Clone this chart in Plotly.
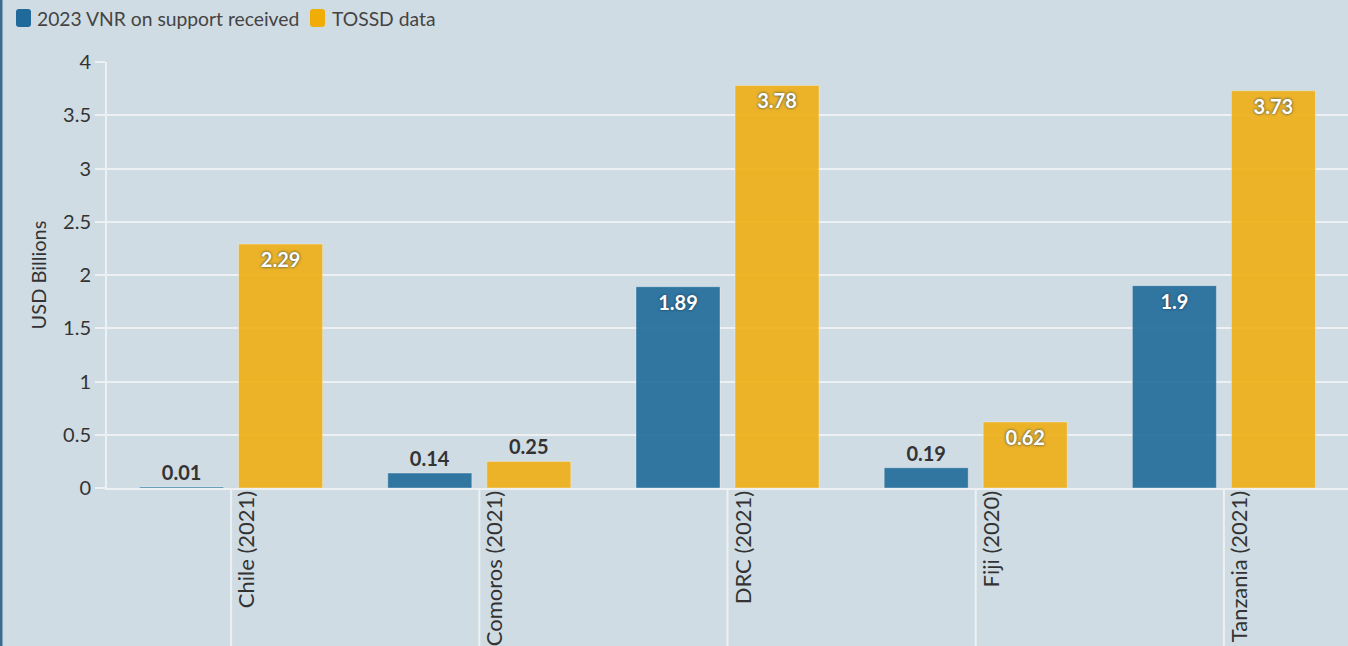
import plotly.graph_objects as go

# Data
countries = ["Chile (2021)", "Comoros (2021)", "DRC (2021)", "Fiji (2020)", "Tanzania (2021)"]
vnr_values = [0.01, 0.14, 1.89, 0.19, 1.9]
tossd_values = [2.29, 0.25, 3.78, 0.62, 3.73]
series_names = ["2023 VNR on support received", "TOSSD data"]
y_ticks = [0, 0.5, 1, 1.5, 2, 2.5, 3, 3.5, 4]

W, H = 1348, 646
ML, MT, MB = 107, 62, 158
PLOT_W, PLOT_H = W - ML, H - MT - MB

BG = "#d0dce3"
GRID = "#edf1f4"
FONT = "Source Sans Pro, Lato, Roboto, sans-serif"
BLUE = "#1a6899"
ORANGE = "#f0ae0f"
LEGEND_BLUE = "#1f6a9b"
LEGEND_ORANGE = "#efad05"
SHADOW = "0px 0px 3px #1d3a52"


def px_x(px):
    # page pixel -> paper fraction (x)
    return (px - ML) / PLOT_W


def px_y(py):
    # page pixel -> paper fraction (y)
    return (H - MB - py) / PLOT_H


def rounded_box(x0, y0, x1, y1, r=3):
    """SVG path of a rounded rectangle given in page pixels, in paper units."""
    rx, ry = r / PLOT_W, r / PLOT_H
    a, b, c, d = px_x(x0), px_x(x1), px_y(y1), px_y(y0)
    return (
        f"M {a + rx},{c} L {b - rx},{c} Q {b},{c} {b},{c + ry} "
        f"L {b},{d - ry} Q {b},{d} {b - rx},{d} L {a + rx},{d} "
        f"Q {a},{d} {a},{d - ry} L {a},{c + ry} Q {a},{c} {a + rx},{c} Z"
    )


def label_positions(values, limit=0.5):
    # small bars carry their label above, large ones inside at the top
    return ["inside" if v > limit else "outside" for v in values]


fig = go.Figure()

for name, values, color in zip(series_names, [vnr_values, tossd_values], [BLUE, ORANGE]):
    fig.add_trace(
        go.Bar(
            x=countries,
            y=values,
            name=name,
            marker=dict(color=color, opacity=0.88, line=dict(color="rgba(255,255,255,0.35)", width=1)),
            text=[f"{v:g}" for v in values],
            textposition=label_positions(values),
            insidetextanchor="end",
            insidetextfont=dict(family=FONT, size=20, color="white", weight="bold", shadow=SHADOW),
            outsidetextfont=dict(family=FONT, size=20, color="#333333", weight="bold"),
            cliponaxis=False,
        )
    )

# category lines below the axis
shapes = [
    dict(type="line", xref="x", yref="paper", x0=c, x1=c, y0=0, y1=-0.45,
         line=dict(color=GRID, width=2), layer="below")
    for c in countries
]
# dark border on the left edge of the page
shapes.append(dict(type="line", xref="paper", yref="paper", x0=px_x(1), x1=px_x(1), y0=-0.4, y1=1.2,
                   line=dict(color="#3b6b90", width=3)))

# hand-made legend (rounded, tall swatches like the original)
legend_items = [(16, 31, 35, LEGEND_BLUE, series_names[0]), (310, 325, 330, LEGEND_ORANGE, series_names[1])]
annotations = []
for sx0, sx1, tx, col, label in legend_items:
    shapes.append(dict(type="path", xref="paper", yref="paper", path=rounded_box(sx0, 9, sx1, 27),
                       fillcolor=col, line=dict(width=0)))
    annotations.append(dict(xref="paper", yref="paper", x=px_x(tx), y=px_y(18), text=label,
                            showarrow=False, xanchor="left", yanchor="middle",
                            font=dict(size=19.3, color="#444444")))

fig.update_layout(
    width=W,
    height=H,
    margin=dict(l=ML, r=0, t=MT, b=MB),
    paper_bgcolor=BG,
    plot_bgcolor=BG,
    font=dict(family=FONT, size=19, color="#444444"),
    barmode="group",
    bargap=0.2023,
    bargroupgap=0.1515,
    showlegend=False,
    shapes=shapes,
    annotations=annotations,
    xaxis=dict(
        tickangle=-90,
        showgrid=False,
        showline=True,
        linecolor=GRID,
        linewidth=2,
        ticks="",
        ticklabelshift=16,
        ticklabelstandoff=-8,
        tickfont=dict(size=22, color="#333333"),
    ),
    yaxis=dict(
        range=[0, 4],
        tickvals=y_ticks,
        ticktext=[f"{t:g}" for t in y_ticks],
        gridcolor=GRID,
        gridwidth=2,
        zeroline=False,
        showline=True,
        linecolor=GRID,
        linewidth=2,
        ticks="outside",
        ticklen=10,
        tickcolor=GRID,
        tickwidth=2,
        tickfont=dict(size=20, color="#333333"),
        title=dict(text="USD Billions", font=dict(size=20, color="#333333"), standoff=11),
    ),
)

# the page's default body margin would shift the figure by 8px
fig.write_html(
    "out.html",
    config={"displayModeBar": False},
    post_script="document.body.style.margin='0';",
)
